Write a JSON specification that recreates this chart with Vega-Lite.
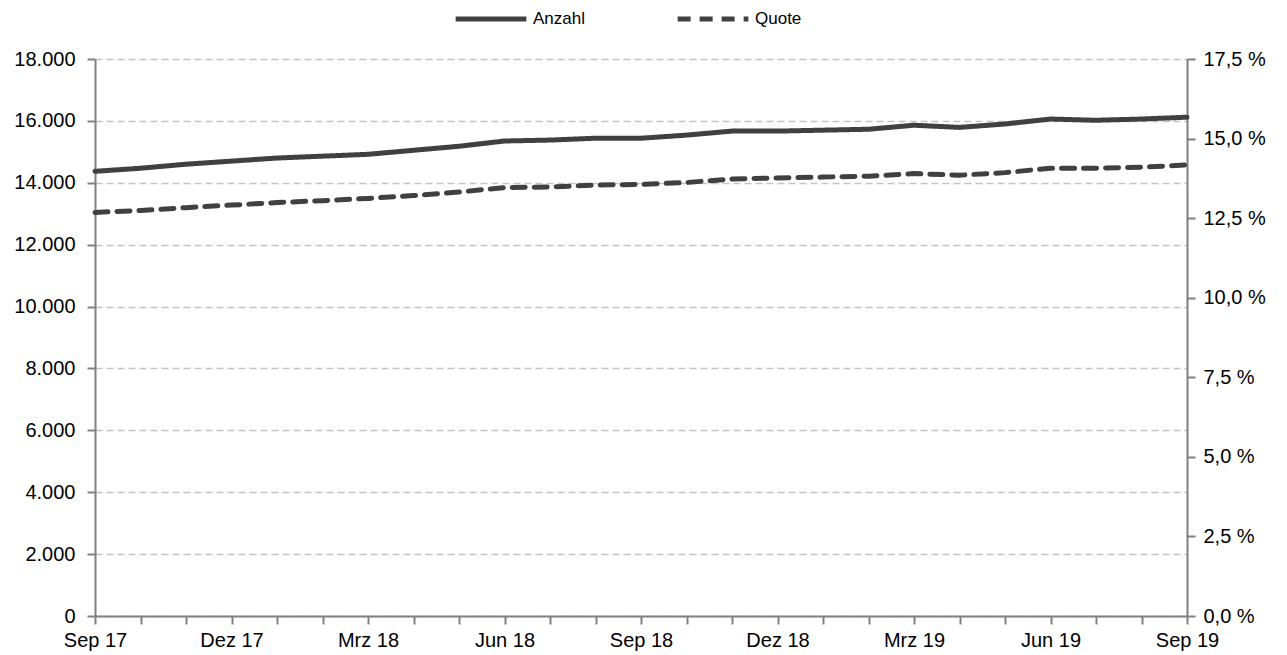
{
  "$schema": "https://vega.github.io/schema/vega-lite/v6.json",
  "width": 1092,
  "height": 557,
  "autosize": {"type": "none"},
  "padding": {"left": 95, "top": 59, "right": 100, "bottom": 39},
  "background": "white",
  "config": {
    "view": {"stroke": null},
    "font": "Liberation Sans",
    "axis": {
      "labelFont": "Liberation Sans",
      "labelFontSize": 20,
      "labelColor": "#000000",
      "domainColor": "#808080",
      "domainWidth": 2,
      "tickColor": "#808080",
      "tickWidth": 2,
      "tickSize": 8,
      "title": null
    }
  },
  "data": {
    "values": [
      {"monat": "Sep 17", "anzahl": 14370, "quote": 12.68},
      {"monat": "Okt 17", "anzahl": 14470, "quote": 12.74},
      {"monat": "Nov 17", "anzahl": 14600, "quote": 12.83},
      {"monat": "Dez 17", "anzahl": 14700, "quote": 12.91},
      {"monat": "Jan 18", "anzahl": 14800, "quote": 12.99},
      {"monat": "Feb 18", "anzahl": 14860, "quote": 13.05},
      {"monat": "Mrz 18", "anzahl": 14920, "quote": 13.12},
      {"monat": "Apr 18", "anzahl": 15050, "quote": 13.21},
      {"monat": "Mai 18", "anzahl": 15180, "quote": 13.32},
      {"monat": "Jun 18", "anzahl": 15350, "quote": 13.46},
      {"monat": "Jul 18", "anzahl": 15380, "quote": 13.48},
      {"monat": "Aug 18", "anzahl": 15440, "quote": 13.54},
      {"monat": "Sep 18", "anzahl": 15440, "quote": 13.56},
      {"monat": "Okt 18", "anzahl": 15540, "quote": 13.62},
      {"monat": "Nov 18", "anzahl": 15670, "quote": 13.73},
      {"monat": "Dez 18", "anzahl": 15670, "quote": 13.76},
      {"monat": "Jan 19", "anzahl": 15700, "quote": 13.79},
      {"monat": "Feb 19", "anzahl": 15730, "quote": 13.82},
      {"monat": "Mrz 19", "anzahl": 15860, "quote": 13.90},
      {"monat": "Apr 19", "anzahl": 15790, "quote": 13.85},
      {"monat": "Mai 19", "anzahl": 15900, "quote": 13.93},
      {"monat": "Jun 19", "anzahl": 16060, "quote": 14.07},
      {"monat": "Jul 19", "anzahl": 16020, "quote": 14.07},
      {"monat": "Aug 19", "anzahl": 16060, "quote": 14.10},
      {"monat": "Sep 19", "anzahl": 16120, "quote": 14.17}
    ]
  },
  "encoding": {
    "x": {
      "field": "monat",
      "type": "ordinal",
      "sort": null,
      "scale": {"type": "point", "padding": 0},
      "axis": {
        "labelAngle": 0,
        "labelPadding": 6,
        "labelExpr": "indexof(['Sep 17','Dez 17','Mrz 18','Jun 18','Sep 18','Dez 18','Mrz 19','Jun 19','Sep 19'], datum.value) >= 0 ? datum.value : ''",
        "grid": false
      }
    }
  },
  "layer": [
    {
      "mark": {"type": "line", "stroke": "#404040", "strokeWidth": 5, "strokeCap": "round"},
      "encoding": {
        "y": {
          "field": "anzahl",
          "type": "quantitative",
          "scale": {"domain": [0, 18000]},
          "axis": {
            "orient": "left",
            "values": [0, 2000, 4000, 6000, 8000, 10000, 12000, 14000, 16000, 18000],
            "labelExpr": "replace(format(datum.value, ','), ',', '.')",
            "grid": true,
            "gridColor": "#c4c4c4",
            "gridDash": [7, 4],
            "gridWidth": 1.5,
            "labelPadding": 12
          }
        },
        "strokeDash": {
          "datum": "Anzahl",
          "type": "nominal",
          "scale": {"domain": ["Anzahl", "Quote"], "range": [[1, 0], [13, 9]]},
          "legend": {
            "orient": "none",
            "legendX": 358,
            "legendY": -78,
            "direction": "horizontal",
            "title": null,
            "symbolType": "stroke",
            "symbolSize": 5000,
            "symbolStrokeWidth": 5,
            "symbolStrokeColor": "#404040",
            "labelFont": "Liberation Sans",
            "labelFontSize": 17,
            "labelColor": "#000000",
            "labelOffset": 4,
            "columnPadding": 82
          }
        }
      }
    },
    {
      "mark": {"type": "line", "stroke": "#404040", "strokeWidth": 5, "strokeCap": "round"},
      "encoding": {
        "y": {
          "field": "quote",
          "type": "quantitative",
          "scale": {"domain": [0, 17.5]},
          "axis": {
            "orient": "right",
            "values": [0, 2.5, 5, 7.5, 10, 12.5, 15, 17.5],
            "labelExpr": "replace(format(datum.value, '.1f'), '.', ',') + ' %'",
            "grid": false,
            "labelPadding": 8
          }
        },
        "strokeDash": {"datum": "Quote", "type": "nominal"}
      }
    }
  ],
  "resolve": {"scale": {"y": "independent"}}
}
